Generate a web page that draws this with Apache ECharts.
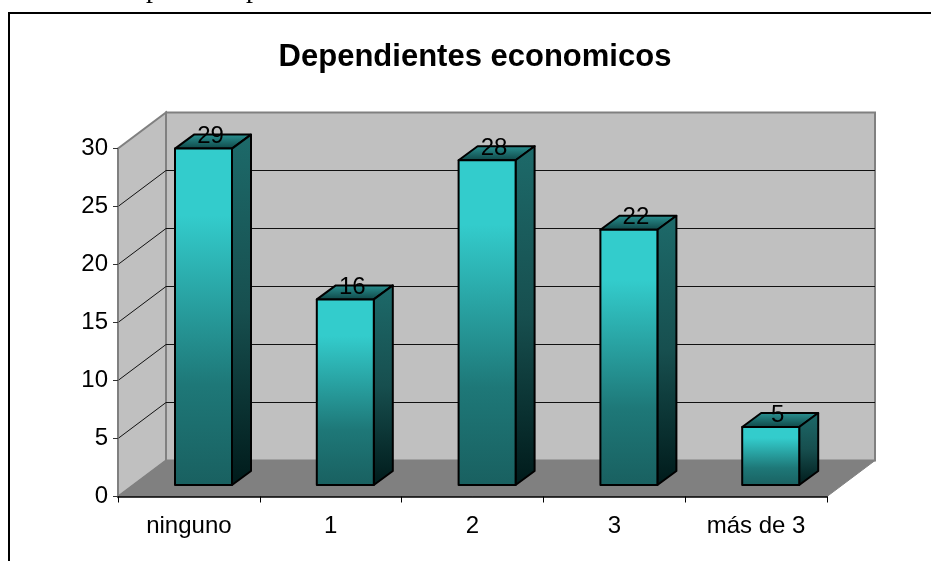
<!DOCTYPE html>
<html>
<head>
<meta charset="utf-8">
<style>html,body{margin:0;padding:0;background:#fff}#c{width:931px;height:561px}</style>
<script src="https://cdn.jsdelivr.net/npm/echarts@6/dist/echarts.min.js"></script>
</head>
<body>
<div id="c"></div>
<script>
const titleText = 'Dependientes economicos';
const categories = ['ninguno', '1', '2', '3', 'más de 3'];
const values = [29, 16, 28, 22, 5];
const yGridValues = [5, 10, 15, 20, 25, 30];
const yMax = 30, yStep = 5;

// 3D look (pixels)
const wallDX = 48, wallDY = -36;
const barDX = 19, barDY = -14;
const barOffX = 57, barOffY = -11.5, barW = 57;
const FONT = '"Liberation Sans", Arial, sans-serif';

const grad = (x0, y0, x1, y1, stops) => new echarts.graphic.LinearGradient(x0, y0, x1, y1,
  stops.map(s => ({ offset: s[0], color: s[1] })));

function renderWalls(params, api) {
  const band = api.size([1, 0])[0];
  const x0 = api.coord([0, 0])[0] - band / 2;
  const x1 = x0 + band * categories.length;
  const y0 = api.coord([0, 0])[1];
  const yT = api.coord([0, yMax])[1];
  const children = [];
  children.push({ type: 'polygon', shape: { points: [[x0, y0], [x0 + wallDX, y0 + wallDY], [x0 + wallDX, yT + wallDY], [x0, yT]] },
    style: { fill: '#C0C0C0', stroke: '#808080', lineWidth: 2 } });
  children.push({ type: 'polygon', shape: { points: [[x0 + wallDX, y0 + wallDY], [x1 + wallDX, y0 + wallDY], [x1 + wallDX, yT + wallDY], [x0 + wallDX, yT + wallDY]] },
    style: { fill: '#C0C0C0', stroke: '#808080', lineWidth: 2 } });
  children.push({ type: 'polygon', shape: { points: [[x0, y0], [x1, y0], [x1 + wallDX, y0 + wallDY], [x0 + wallDX, y0 + wallDY]] },
    style: { fill: '#808080', stroke: '#808080', lineWidth: 1 } });
  yGridValues.forEach(v => {
    const y = api.coord([0, v])[1];
    if (v < yMax) {
      children.push({ type: 'polyline', shape: { points: [[x0, y], [x0 + wallDX, y + wallDY], [x1 + wallDX, y + wallDY]] },
        style: { fill: 'none', stroke: '#111', lineWidth: 1 } });
    }
  });
  return { type: 'group', children };
}

function renderBar(params, api) {
  const i = api.value(0), v = api.value(1);
  const band = api.size([1, 0])[0];
  const bx = api.coord([i, 0])[0] - band / 2 + barOffX;
  const by = api.coord([i, 0])[1] + barOffY;
  const ty = api.coord([i, v])[1] + barOffY;
  const rx = bx + barW;
  const edge = { stroke: '#000', lineWidth: 2, lineJoin: 'round' };
  return { type: 'group', children: [
    { type: 'polygon', shape: { points: [[bx, ty], [rx, ty], [rx + barDX, ty + barDY], [bx + barDX, ty + barDY]] },
      style: Object.assign({ fill: grad(0, 1, 0, 0, [[0, '#0E4444'], [1, '#2B9595']]) }, edge) },
    { type: 'polygon', shape: { points: [[rx, ty], [rx + barDX, ty + barDY], [rx + barDX, by + barDY], [rx, by]] },
      style: Object.assign({ fill: grad(0, 0, 0, 1, [[0, '#1D6A6A'], [0.5, '#174F4F'], [1, '#001A1A']]) }, edge) },
    { type: 'rect', shape: { x: bx, y: ty, width: barW, height: by - ty },
      style: Object.assign({ fill: grad(0, 0, 0, 1, [[0, '#33CCCC'], [0.2, '#33CCCC'], [0.7, '#1E7878'], [1, '#196060']]) }, edge) },
    { type: 'text', style: { text: String(v), x: bx + barW / 2 + 7, y: ty - 12, align: 'center', verticalAlign: 'middle',
        font: '24px ' + FONT, fill: '#000' } }
  ] };
}

const chart = echarts.init(document.getElementById('c'), null, { renderer: 'canvas' });
chart.setOption({
  animation: false,
  backgroundColor: '#fff',
  title: { text: titleText, left: 470, top: 37, textAlign: 'center',
    textStyle: { fontFamily: FONT, fontWeight: 'bold', fontSize: 31, color: '#000' } },
  grid: { left: 118, top: 148.5, width: 709, height: 348, containLabel: false },
  xAxis: { type: 'category', data: categories, z: 5,
    axisLine: { lineStyle: { color: '#000', width: 1.5 } },
    axisTick: { show: true, alignWithLabel: false, length: 6, lineStyle: { color: '#000' } },
    axisLabel: { fontFamily: FONT, fontSize: 24, color: '#000', margin: 18 } },
  yAxis: { type: 'value', min: 0, max: yMax, interval: yStep, z: 5,
    axisLine: { show: true, lineStyle: { color: '#808080', width: 1.5 } },
    axisTick: { show: true, length: 5, lineStyle: { color: '#333' } },
    splitLine: { show: false },
    axisLabel: { fontFamily: FONT, fontSize: 24, color: '#000', margin: 10, padding: [5, 0, 0, 0] } },
  series: [
    { type: 'custom', name: 'walls', coordinateSystem: 'cartesian2d', renderItem: renderWalls, data: [[0, 0]], silent: true, z: 1, clip: false },
    { type: 'custom', name: 'Dependientes', coordinateSystem: 'cartesian2d', renderItem: renderBar,
      encode: { x: 0, y: 1 }, data: values.map((v, i) => [i, v]), z: 3, clip: false }
  ],
  graphic: [
    { type: 'polyline', z: 10, shape: { points: [[9, 561], [9, 13], [931, 13]] }, style: { fill: 'none', stroke: '#000', lineWidth: 2 } },
    { type: 'text', z: 10, style: { text: 'p', x: 146, y: -24, font: '28px "Liberation Serif", serif', fill: '#000' } },
    { type: 'text', z: 10, style: { text: 'p', x: 246, y: -24, font: '28px "Liberation Serif", serif', fill: '#000' } }
  ]
});
</script>
</body>
</html>
